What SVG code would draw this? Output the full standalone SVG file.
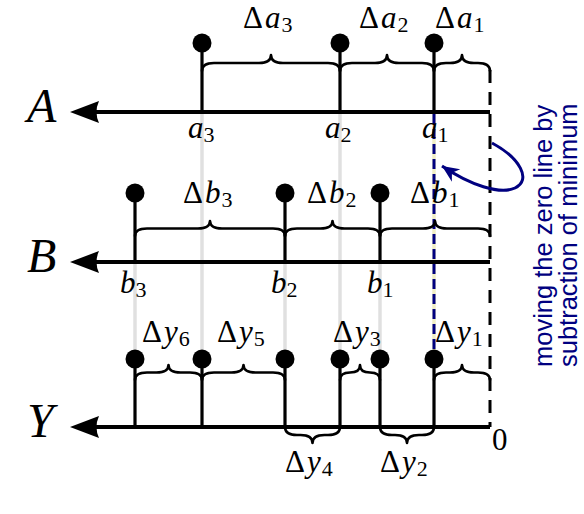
<svg xmlns="http://www.w3.org/2000/svg" width="584" height="514" viewBox="0 0 584 514">
<defs>
<marker id="blueHead" markerUnits="userSpaceOnUse" markerWidth="22" markerHeight="22" viewBox="-20 -11 22 22" refX="0" refY="0" orient="auto">
<path d="M0,0 L-17,-7.5 L-12,0 L-17,7.5 Z" fill="#000080"/>
</marker>
<path id="axisHead" d="M0,0 L29,-11 Q24,0 29,11 Z"/>
</defs>
<style>
.axis{stroke:#000;stroke-width:4;fill:none}
.stem{stroke:#000;stroke-width:3.2}
.dot{fill:#000}
.brace{stroke:#000;stroke-width:2.6;fill:none;stroke-linejoin:round;stroke-linecap:round}
.guide{stroke:#e0e0e0;stroke-width:3.5}
.math{font-family:"Liberation Serif","Times New Roman",serif;font-size:31px;fill:#000}
.var{font-style:italic}
.sub{font-size:22px}
.big{font-family:"Liberation Serif","Times New Roman",serif;font-style:italic;font-size:48px;fill:#000}
.note{font-family:"Liberation Sans",Arial,sans-serif;font-size:25.5px;fill:#000080}
</style>
<rect width="584" height="514" fill="#fff"/>

<g id="connectors">
<line class="guide" x1="202" y1="114" x2="202" y2="359"/>
<line class="guide" x1="340" y1="114" x2="340" y2="359"/>
<line class="guide" x1="135" y1="264" x2="135" y2="359"/>
<line class="guide" x1="285" y1="264" x2="285" y2="359"/>
<line class="guide" x1="380" y1="264" x2="380" y2="359"/>
<line x1="434" y1="114" x2="434" y2="359" stroke="#f0eec4" stroke-width="3.5"/>
<line x1="434" y1="114" x2="434" y2="350" stroke="#000080" stroke-width="3" stroke-dasharray="10 5"/>
<line x1="490" y1="70" x2="490" y2="427" stroke="#000" stroke-width="3" stroke-dasharray="13 9"/>
<path d="M492,143 C520,158 532,180 515,188 C500,195 470,185 442,166" fill="none" stroke="#000080" stroke-width="3" marker-end="url(#blueHead)"/>
</g>

<g id="axis-A">
<line class="axis" x1="90" y1="112" x2="490" y2="112"/>
<use href="#axisHead" x="70" y="112"/>
<text class="big" x="27" y="122">A</text>
<line class="stem" x1="202" y1="43" x2="202" y2="112"/>
<line class="stem" x1="340" y1="43" x2="340" y2="112"/>
<line class="stem" x1="434" y1="43" x2="434" y2="112"/>
<circle class="dot" cx="202" cy="43" r="9.5"/>
<circle class="dot" cx="340" cy="43" r="9.5"/>
<circle class="dot" cx="434" cy="43" r="9.5"/>
<path class="brace" d="M202,71 Q202,63 214,63 L259,63 Q271,63 271,55 Q271,63 283,63 L328,63 Q340,63 340,71"/>
<path class="brace" d="M340,71 Q340,63 352,63 L375,63 Q387,63 387,55 Q387,63 399,63 L422,63 Q434,63 434,71"/>
<path class="brace" d="M434,71 Q434,63 446,63 L450,63 Q462,63 462,55 Q462,63 474,63 L478,63 Q490,63 490,71"/>
<text class="math" x="243" y="28">Δ<tspan class="var" dx="2">a</tspan><tspan class="sub" dx="1" dy="4">3</tspan></text>
<text class="math" x="359" y="28">Δ<tspan class="var" dx="2">a</tspan><tspan class="sub" dx="1" dy="4">2</tspan></text>
<text class="math" x="435" y="28">Δ<tspan class="var" dx="2">a</tspan><tspan class="sub" dx="1" dy="4">1</tspan></text>
<text class="math" x="188" y="138"><tspan class="var">a</tspan><tspan class="sub" dy="4">3</tspan></text>
<text class="math" x="325" y="138"><tspan class="var">a</tspan><tspan class="sub" dy="4">2</tspan></text>
<text class="math" x="422" y="138"><tspan class="var">a</tspan><tspan class="sub" dy="4">1</tspan></text>
</g>

<g id="axis-B">
<line class="axis" x1="90" y1="262" x2="490" y2="262"/>
<use href="#axisHead" x="70" y="262"/>
<text class="big" x="27" y="272">B</text>
<line class="stem" x1="135" y1="193" x2="135" y2="262"/>
<line class="stem" x1="285" y1="193" x2="285" y2="262"/>
<line class="stem" x1="380" y1="193" x2="380" y2="262"/>
<circle class="dot" cx="135" cy="193" r="9.5"/>
<circle class="dot" cx="285" cy="193" r="9.5"/>
<circle class="dot" cx="380" cy="193" r="9.5"/>
<path class="brace" d="M135,236 Q135,228.5 147,228.5 L198,228.5 Q210,228.5 210,221 Q210,228.5 222,228.5 L273,228.5 Q285,228.5 285,236"/>
<path class="brace" d="M285,236 Q285,228.5 297,228.5 L320.5,228.5 Q332.5,228.5 332.5,221 Q332.5,228.5 344.5,228.5 L368,228.5 Q380,228.5 380,236"/>
<path class="brace" d="M380,236 Q380,228.5 392,228.5 L423,228.5 Q435,228.5 435,221 Q435,228.5 447,228.5 L478,228.5 Q490,228.5 490,236"/>
<text class="math" x="183" y="203">Δ<tspan class="var" dx="2">b</tspan><tspan class="sub" dx="1" dy="4">3</tspan></text>
<text class="math" x="307" y="203">Δ<tspan class="var" dx="2">b</tspan><tspan class="sub" dx="1" dy="4">2</tspan></text>
<text class="math" x="410" y="203">Δ<tspan class="var" dx="2">b</tspan><tspan class="sub" dx="1" dy="4">1</tspan></text>
<text class="math" x="120" y="293"><tspan class="var">b</tspan><tspan class="sub" dy="4">3</tspan></text>
<text class="math" x="271" y="293"><tspan class="var">b</tspan><tspan class="sub" dy="4">2</tspan></text>
<text class="math" x="367" y="293"><tspan class="var">b</tspan><tspan class="sub" dy="4">1</tspan></text>
</g>

<g id="axis-Y">
<line class="axis" x1="90" y1="427" x2="490" y2="427"/>
<use href="#axisHead" x="70" y="427"/>
<text class="big" x="27" y="437">Y</text>
<line class="stem" x1="135" y1="359" x2="135" y2="427"/>
<line class="stem" x1="202" y1="359" x2="202" y2="427"/>
<line class="stem" x1="285" y1="359" x2="285" y2="427"/>
<line class="stem" x1="340" y1="359" x2="340" y2="427"/>
<line class="stem" x1="380" y1="359" x2="380" y2="427"/>
<line class="stem" x1="434" y1="359" x2="434" y2="427"/>
<circle class="dot" cx="135" cy="359" r="9.5"/>
<circle class="dot" cx="202" cy="359" r="9.5"/>
<circle class="dot" cx="285" cy="359" r="9.5"/>
<circle class="dot" cx="340" cy="359" r="9.5"/>
<circle class="dot" cx="380" cy="359" r="9.5"/>
<circle class="dot" cx="434" cy="359" r="9.5"/>
<path class="brace" d="M135,380 Q135,372.5 147,372.5 L156.5,372.5 Q168.5,372.5 168.5,365 Q168.5,372.5 180.5,372.5 L190,372.5 Q202,372.5 202,380"/>
<path class="brace" d="M202,380 Q202,372.5 214,372.5 L231.5,372.5 Q243.5,372.5 243.5,365 Q243.5,372.5 255.5,372.5 L273,372.5 Q285,372.5 285,380"/>
<path class="brace" d="M340,380 Q340,372.5 350,372.5 Q360,372.5 360,365 Q360,372.5 370,372.5 Q380,372.5 380,380"/>
<path class="brace" d="M434,380 Q434,372.5 446,372.5 L450,372.5 Q462,372.5 462,365 Q462,372.5 474,372.5 L478,372.5 Q490,372.5 490,380"/>
<path class="brace" d="M285,427 Q285,435 297,435 L300.5,435 Q312.5,435 312.5,443 Q312.5,435 324.5,435 L328,435 Q340,435 340,427"/>
<path class="brace" d="M380,427 Q380,435 392,435 L395,435 Q407,435 407,443 Q407,435 419,435 L422,435 Q434,435 434,427"/>
<text class="math" x="142" y="342">Δ<tspan class="var" dx="2">y</tspan><tspan class="sub" dx="1" dy="4">6</tspan></text>
<text class="math" x="217" y="342">Δ<tspan class="var" dx="2">y</tspan><tspan class="sub" dx="1" dy="4">5</tspan></text>
<text class="math" x="333" y="342">Δ<tspan class="var" dx="2">y</tspan><tspan class="sub" dx="1" dy="4">3</tspan></text>
<text class="math" x="435" y="342">Δ<tspan class="var" dx="2">y</tspan><tspan class="sub" dx="1" dy="4">1</tspan></text>
<text class="math" x="285" y="472">Δ<tspan class="var" dx="2">y</tspan><tspan class="sub" dx="1" dy="4">4</tspan></text>
<text class="math" x="380" y="472">Δ<tspan class="var" dx="2">y</tspan><tspan class="sub" dx="1" dy="4">2</tspan></text>
<text class="math" x="492" y="450">0</text>
</g>

<g id="note">
<text class="note" transform="translate(552,367) rotate(-90)">moving the zero line by</text>
<text class="note" transform="translate(577,367) rotate(-90)">subtraction of minimum</text>
</g>
</svg>
